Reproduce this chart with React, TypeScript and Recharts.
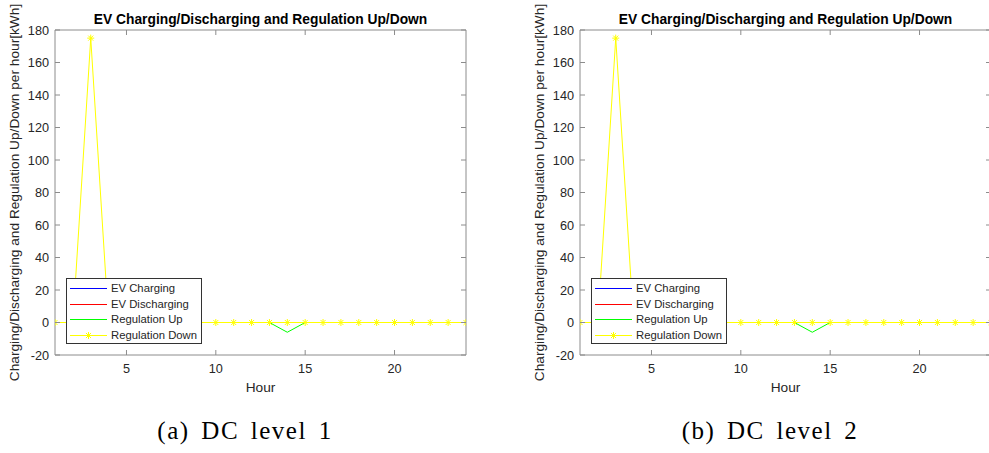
import { Label, Line, LineChart, XAxis, YAxis } from "recharts";

const hours = [1, 2, 3, 4, 5, 6, 7, 8, 9, 10, 11, 12, 13, 14, 15, 16, 17, 18, 19, 20, 21, 22, 23, 24];

// DC level 1
const l1Charging = [0, 0, 0, 0, 0, 0, 0, 0, 0, 0, 0, 0, 0, 0, 0, 0, 0, 0, 0, 0, 0, 0, 0, 0];
const l1Discharging = [0, 0, 0, 0, 0, 0, 0, 0, 0, 0, 0, 0, 0, 0, 0, 0, 0, 0, 0, 0, 0, 0, 0, 0];
const l1RegUp = [0, 0, 0, 0, 0, 0, 0, 0, 0, 0, 0, 0, 0, -6, 0, 0, 0, 0, 0, 0, 0, 0, 0, 0];
const l1RegDown = [0, 0, 175, 0, 0, 0, 0, 0, 0, 0, 0, 0, 0, 0, 0, 0, 0, 0, 0, 0, 0, 0, 0, 0];

// DC level 2
const l2Charging = [0, 0, 0, 0, 0, 0, 0, 0, 0, 0, 0, 0, 0, 0, 0, 0, 0, 0, 0, 0, 0, 0, 0, 0];
const l2Discharging = [0, 0, 0, 0, 0, 0, 0, 0, 0, 0, 0, 0, 0, 0, 0, 0, 0, 0, 0, 0, 0, 0, 0, 0];
const l2RegUp = [0, 0, 0, 0, 0, 0, 0, 0, 0, 0, 0, 0, 0, -6, 0, 0, 0, 0, 0, 0, 0, 0, 0, 0];
const l2RegDown = [0, 0, 175, 0, 0, 0, 0, 0, 0, 0, 0, 0, 0, 0, 0, 0, 0, 0, 0, 0, 0, 0, 0, 0];

const xTicks = [5, 10, 15, 20];
const yTicks = [-20, 0, 20, 40, 60, 80, 100, 120, 140, 160, 180];

const series = [
  { key: "charging", name: "EV Charging", color: "#0000ff", star: false },
  { key: "discharging", name: "EV Discharging", color: "#ff0000", star: false },
  { key: "regUp", name: "Regulation Up", color: "#00ff00", star: false },
  { key: "regDown", name: "Regulation Down", color: "#ffff00", star: true },
];

const TITLE = "EV Charging/Discharging and Regulation Up/Down";
const YLABEL = "Charging/Discharging and Regulation Up/Down per hour[kWh]";

const SANS = "'Liberation Sans', Arial, Helvetica, sans-serif";
const AXIS = "#8c8c8c";
const TEXT = "#262626";

function buildRows(c: number[], d: number[], up: number[], down: number[]) {
  return hours.map((h, i) => ({
    hour: h,
    charging: c[i],
    discharging: d[i],
    regUp: up[i],
    regDown: down[i],
  }));
}

// MATLAB '*' marker: plus + cross
function starDot(color: string) {
  return (props: any) => {
    const { cx, cy, index } = props;
    if (cx == null || cy == null) return <g key={`n${index}`} />;
    const r = 3.5;
    const d = r * 0.72;
    return (
      <g key={`s${index}`} stroke={color} strokeWidth={1}>
        <line x1={cx - r} y1={cy} x2={cx + r} y2={cy} />
        <line x1={cx} y1={cy - r} x2={cx} y2={cy + r} />
        <line x1={cx - d} y1={cy - d} x2={cx + d} y2={cy + d} />
        <line x1={cx - d} y1={cy + d} x2={cx + d} y2={cy - d} />
      </g>
    );
  };
}

const BottomTick = ({ x, y, payload }: any) => (
  <g>
    <line x1={x} x2={x} y1={y} y2={y - 5} stroke={AXIS} />
    <text x={x} y={y + 18} textAnchor="middle" fontSize={12.7} fill={TEXT} fontFamily={SANS}>
      {payload.value}
    </text>
  </g>
);

const TopTick = ({ x, y }: any) => <line x1={x} x2={x} y1={y} y2={y + 5} stroke={AXIS} />;

const LeftTick = ({ x, y, payload }: any) => (
  <g>
    <line x1={x} x2={x + 5} y1={y} y2={y} stroke={AXIS} />
    <text x={x - 6} y={y + 4.5} textAnchor="end" fontSize={12.7} fill={TEXT} fontFamily={SANS}>
      {payload.value}
    </text>
  </g>
);

const RightTick = ({ x, y }: any) => <line x1={x} x2={x - 5} y1={y} y2={y} stroke={AXIS} />;

function Panel({ rows, caption }: { rows: any[]; caption: string }) {
  return (
    <div style={{ position: "relative", width: 480, height: 453 }}>
      <LineChart
        width={480}
        height={400}
        data={rows}
        margin={{ top: 10, right: 4, bottom: 15, left: 15 }}
      >
        <XAxis
          dataKey="hour"
          type="number"
          domain={[1, 24]}
          ticks={xTicks}
          interval={0}
          height={30}
          tickSize={0}
          tickMargin={0}
          tickLine={false}
          axisLine={{ stroke: AXIS }}
          tick={BottomTick}
          allowDataOverflow
        >
          <Label
            content={(p: any) => (
              <text
                x={p.viewBox.x + p.viewBox.width / 2}
                y={p.viewBox.y + 37}
                textAnchor="middle"
                fontSize={13.7}
                fill={TEXT}
                fontFamily={SANS}
              >
                Hour
              </text>
            )}
          />
        </XAxis>
        <XAxis
          xAxisId="top"
          orientation="top"
          dataKey="hour"
          type="number"
          domain={[1, 24]}
          ticks={xTicks}
          interval={0}
          height={20}
          tickSize={0}
          tickMargin={0}
          tickLine={false}
          axisLine={{ stroke: AXIS }}
          tick={TopTick}
          allowDataOverflow
        >
          <Label
            content={(p: any) => (
              <text
                x={p.viewBox.x + p.viewBox.width / 2}
                y={p.viewBox.y + p.viewBox.height - 6}
                textAnchor="middle"
                fontSize={13.8}
                fontWeight="bold"
                fill="#000"
                fontFamily={SANS}
              >
                {TITLE}
              </text>
            )}
          />
        </XAxis>
        <YAxis
          type="number"
          domain={[-20, 180]}
          ticks={yTicks}
          interval={0}
          width={40}
          tickSize={0}
          tickMargin={0}
          tickLine={false}
          axisLine={{ stroke: AXIS }}
          tick={LeftTick}
          allowDataOverflow
        >
          <Label
            content={(p: any) => {
              const x = p.viewBox.x + p.viewBox.width - 36;
              const y = p.viewBox.y + p.viewBox.height / 2;
              return (
                <text
                  x={x}
                  y={y}
                  transform={`rotate(-90, ${x}, ${y})`}
                  textAnchor="middle"
                  fontSize={13.7}
                  fill={TEXT}
                  fontFamily={SANS}
                >
                  {YLABEL}
                </text>
              );
            }}
          />
        </YAxis>
        <YAxis
          yAxisId="right"
          orientation="right"
          type="number"
          domain={[-20, 180]}
          ticks={yTicks}
          interval={0}
          width={10}
          tickSize={0}
          tickMargin={0}
          tickLine={false}
          axisLine={{ stroke: AXIS }}
          tick={RightTick}
          allowDataOverflow
        />
        {series.map((s) => (
          <Line
            key={s.key}
            type="linear"
            dataKey={s.key}
            name={s.name}
            stroke={s.color}
            strokeWidth={1}
            dot={s.star ? starDot(s.color) : false}
            activeDot={false}
            isAnimationActive={false}
          />
        ))}
      </LineChart>
      <div
        style={{
          position: "absolute",
          left: 66,
          top: 278,
          width: 134,
          height: 64,
          border: "1px solid #333",
          background: "#fff",
          fontFamily: SANS,
          fontSize: 11.3,
          color: TEXT,
        }}
      >
        {series.map((s, i) => (
          <div
            key={s.key}
            style={{ position: "absolute", left: 0, top: 2 + i * 15.7, height: 15, width: 134 }}
          >
            <svg width={44} height={15} style={{ position: "absolute", left: 0, top: 0 }}>
              <line x1={3} x2={40} y1={7.5} y2={7.5} stroke={s.color} strokeWidth={1} />
              {s.star && starDot(s.color)({ cx: 21.5, cy: 7.5, index: i })}
            </svg>
            <span style={{ position: "absolute", left: 44, top: 0, lineHeight: "15px", whiteSpace: "nowrap" }}>
              {s.name}
            </span>
          </div>
        ))}
      </div>
      <svg width={480} height={53} style={{ position: "absolute", left: 0, top: 400 }}>
        <text
          x={245}
          y={39}
          textAnchor="middle"
          fontSize={25}
          letterSpacing={1.5}
          wordSpacing={4}
          fill="#000"
          fontFamily="'Liberation Serif', 'Times New Roman', serif"
        >
          {caption}
        </text>
      </svg>
    </div>
  );
}

export default function App() {
  const rows1 = buildRows(l1Charging, l1Discharging, l1RegUp, l1RegDown);
  const rows2 = buildRows(l2Charging, l2Discharging, l2RegUp, l2RegDown);
  return (
    <div
      style={{
        position: "absolute",
        left: 0,
        top: 0,
        width: 989,
        height: 453,
        overflow: "hidden",
        background: "#fff",
      }}
    >
      <div style={{ position: "absolute", left: 0, top: 0 }}>
        <Panel rows={rows1} caption="(a) DC level 1" />
      </div>
      <div style={{ position: "absolute", left: 525, top: 0 }}>
        <Panel rows={rows2} caption="(b) DC level 2" />
      </div>
    </div>
  );
}
